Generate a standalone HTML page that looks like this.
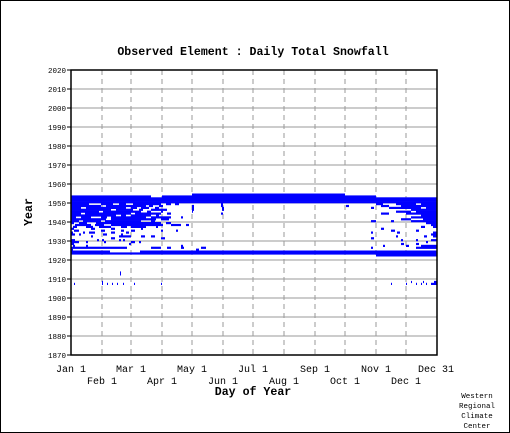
<!DOCTYPE html>
<html><head><meta charset="utf-8"><style>
body{margin:0;background:#fff}
svg{display:block;font-family:"Liberation Mono","DejaVu Sans Mono",monospace}
</style></head><body>
<svg id="chart" width="510" height="433" xmlns="http://www.w3.org/2000/svg">
<rect x="0.5" y="0.5" width="509" height="432" fill="#fff" stroke="#000"/>
<text x="253" y="55" text-anchor="middle" font-size="11.6" font-weight="bold">Observed Element : Daily Total Snowfall</text>
<g id="grid"></g>
<g id="marks"></g>
<g id="axes"></g>
<text x="253" y="395" text-anchor="middle" font-size="11.6" font-weight="bold">Day of Year</text>
<text transform="translate(32,212) rotate(-90)" text-anchor="middle" font-size="11.6" font-weight="bold">Year</text>
<g font-size="7.5" text-anchor="middle">
<text x="477" y="398">Western</text><text x="477" y="408">Regional</text><text x="477" y="418">Climate</text><text x="477" y="428">Center</text>
</g>
</svg>
<script>
const yearTicks=[1870,1880,1890,1900,1910,1920,1930,1940,1950,1960,1970,1980,1990,2000,2010,2020];
const monthLabels=["Jan 1","Feb 1","Mar 1","Apr 1","May 1","Jun 1","Jul 1","Aug 1","Sep 1","Oct 1","Nov 1","Dec 1","Dec 31"];
const monthDays=[0,31,60,91,121,152,182,213,244,274,305,335,365];
// segments: [year, startDay, endDay]
const fullYears=[1950,1951,1952,1923];
const segments=[
[1953,0,80],[1953,91,305],[1954,121,274],
[1924,0,39],[1924,69,305],[1922,305,366],[1924,305,366],
[1949,0,18],[1949,30,42],[1949,48,55],[1949,62,90],[1949,95,100],[1949,104,108],[1949,150,152],[1949,305,312],[1949,325,345],[1949,350,366],
[1948,0,30],[1948,35,75],[1948,78,82],[1948,88,92],[1948,121,123],[1948,150,152],[1948,275,278],[1948,310,318],[1948,330,366],
[1947,0,10],[1947,15,55],[1947,60,66],[1947,70,78],[1947,84,88],[1947,121,123],[1947,151,153],[1947,300,303],[1947,318,350],[1947,355,366],
[1946,0,40],[1946,45,62],[1946,68,72],[1946,80,96],[1946,121,123],[1946,151,153],[1946,340,366],
[1945,0,28],[1945,32,70],[1945,76,80],[1945,90,92],[1945,121,122],[1945,325,340],[1945,345,366],
[1944,0,10],[1944,14,60],[1944,64,90],[1944,96,100],[1944,150,152],[1944,310,318],[1944,335,366],
[1943,0,45],[1943,50,55],[1943,60,80],[1943,85,88],[1943,350,366],
[1942,0,5],[1942,10,20],[1942,30,36],[1942,40,75],[1942,80,100],[1942,110,112],[1942,340,366],
[1941,0,35],[1941,40,85],[1941,90,98],[1941,330,340],[1941,352,366],
[1940,0,8],[1940,12,30],[1940,34,70],[1940,80,84],[1940,300,305],[1940,320,323],[1940,340,366],
[1939,0,3],[1939,8,16],[1939,25,90],[1939,95,100],[1939,355,366],
[1938,4,20],[1938,24,33],[1938,40,92],[1938,100,110],[1938,115,118],[1938,360,366],
[1937,2,6],[1937,15,22],[1937,28,40],[1937,50,56],[1937,60,75],[1937,85,87],[1937,350,354],[1937,362,366],
[1936,0,3],[1936,20,24],[1936,40,44],[1936,70,72],[1936,310,313],
[1935,3,8],[1935,30,34],[1935,50,53],[1935,60,64],[1935,90,92],[1935,105,107],[1935,320,324],[1935,345,348],
[1934,0,2],[1934,12,14],[1934,18,24],[1934,40,44],[1934,55,58],[1934,300,302],[1934,326,329],[1934,362,366],
[1933,0,4],[1933,8,10],[1933,32,36],[1933,50,52],[1933,360,366],
[1932,20,22],[1932,48,60],[1932,70,74],[1932,80,84],[1932,325,327],[1932,353,356],[1932,362,366],
[1931,40,44],[1931,90,94],[1931,300,303],
[1930,0,4],[1930,26,28],[1930,31,33],[1930,48,50],[1930,52,54],[1930,330,332],[1930,345,347],[1930,360,366],
[1929,0,8],[1929,15,17],[1929,33,35],[1929,60,64],[1929,68,70],[1929,355,357],
[1928,0,3],[1928,58,60],[1928,330,333],[1928,345,348],
[1927,2,4],[1927,15,17],[1927,110,112],[1927,312,314],[1927,335,338],[1927,350,366],
[1926,0,56],[1926,80,90],[1926,96,100],[1926,110,113],[1926,130,135],[1926,300,302],[1926,345,366],
[1925,0,2],[1925,125,128],
[1913,49,50],[1912,49,50],
[1908,31,32],[1908,340,341],[1908,352,353],[1908,363,366],
[1907,3,4],[1907,31,32],[1907,36,37],[1907,41,42],[1907,46,47],[1907,52,53],[1907,63,64],[1907,90,91],[1907,320,321],[1907,335,336],[1907,345,346],[1907,350,351],[1907,355,356],[1907,360,366]
];
const X0=71,X1=437,Y0=70,Y1=355,YMIN=1870,YMAX=2020;
const xs=d=>X0+(d/366)*(X1-X0);
const ys=y=>Y1-(y-YMIN)/(YMAX-YMIN)*(Y1-Y0);
const NS="http://www.w3.org/2000/svg";
function mk(t,a,p){const e=document.createElementNS(NS,t);for(const k in a)e.setAttribute(k,a[k]);p.appendChild(e);return e;}
const grid=document.getElementById('grid'),marks=document.getElementById('marks'),axes=document.getElementById('axes');
yearTicks.forEach(y=>{
  const l=mk('line',{x1:X0,x2:X1,y1:ys(y),y2:ys(y),stroke:'#9a9a9a','stroke-width':1},grid);
  
  
  const tk=mk('line',{x1:X0-4,x2:X0,y1:ys(y),y2:ys(y),stroke:'#000'},axes);
  
  
  const t=mk('text',{x:X0-5,y:ys(y)+3,'text-anchor':'end','font-size':'7.5'},axes);
  t.textContent=y;
  
  
});
monthDays.forEach((d,i)=>{
  if(i>0&&i<monthDays.length-1){
    const l=mk('line',{x1:xs(d),x2:xs(d),y1:Y0,y2:Y1,stroke:'#9a9a9a','stroke-dasharray':'5,4'},grid);
    
    
  }
  const t=mk('text',{x:xs(d),y:i%2?384:372,'text-anchor':'middle','font-size':'10'},axes);
  t.textContent=monthLabels[i];
  
  
});
const h=(Y1-Y0)/(YMAX-YMIN);
fullYears.forEach(y=>{
  const r=mk('rect',{x:X0,y:ys(y+1),width:X1-X0,height:h+0.3,fill:'#0000ff'},marks);
  
  
});
segments.forEach(s=>{
  const r=mk('rect',{x:xs(s[1]),y:ys(s[0]+1),width:Math.max(1,xs(s[2])-xs(s[1])),height:h+0.3,fill:'#0000ff'},marks);
  
  
});
const f=mk('rect',{x:X0,y:Y0,width:X1-X0,height:Y1-Y0,fill:'none',stroke:'#000','stroke-width':1.5},axes);


</script>
</body></html>
